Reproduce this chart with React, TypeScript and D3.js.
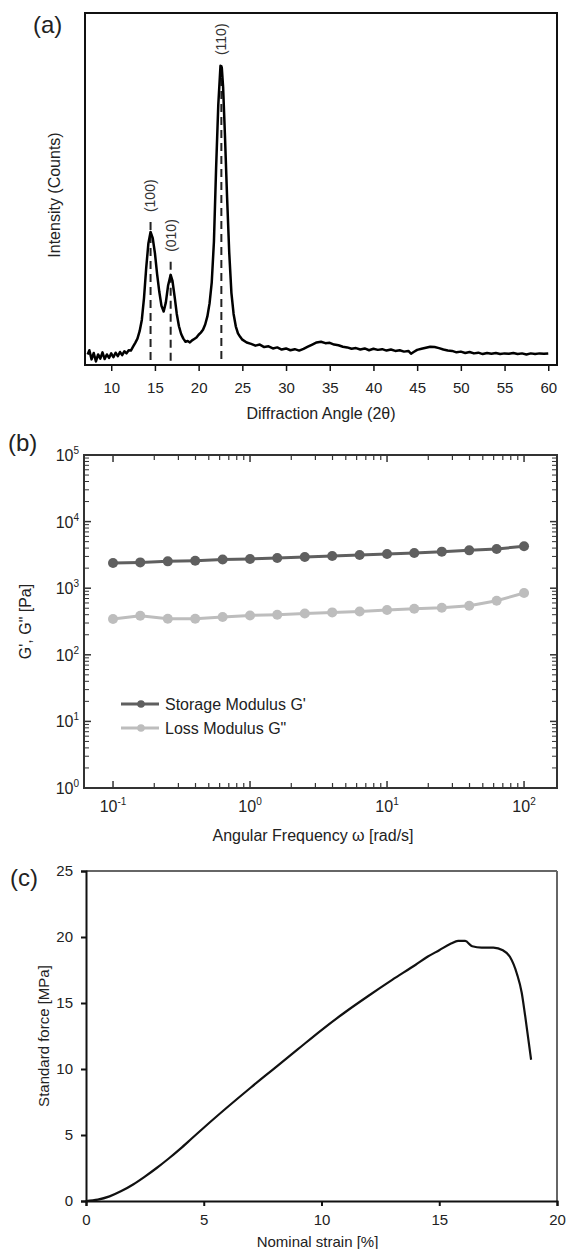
import { useRef, useEffect } from 'react';
import * as d3 from 'd3';

const W = 569;
const H = 1249;
const FONT = "'Liberation Sans', Arial, sans-serif";

// (a) XRD pattern
const xrdAngle = [
  7.3, 7.5, 7.75, 8.0, 8.25, 8.5, 8.75, 9.0, 9.25, 9.5, 9.75, 10.0, 10.25, 10.5, 10.75,
  11.0, 11.25, 11.5, 11.75, 12.0, 12.25, 12.5, 12.75, 13.0, 13.25, 13.5, 13.75, 14.0,
  14.25, 14.5, 14.75, 15.0, 15.25, 15.5, 15.75, 16.0, 16.25, 16.5, 16.8, 17.0, 17.25,
  17.5, 17.75, 18.0, 18.25, 18.5, 18.75, 19.0, 19.25, 19.5, 19.75, 20.0, 20.25, 20.5,
  20.75, 21.0, 21.25, 21.5, 21.75, 22.0, 22.25, 22.5, 22.65, 22.8, 23.0, 23.25, 23.5,
  23.75, 24.0, 24.25, 24.5, 24.75, 25.0, 25.5, 26.0, 26.5, 27.0, 27.5, 28.0, 28.5, 29.0,
  29.5, 30.0, 30.5, 31.0, 31.5, 32.0, 32.5, 33.0, 33.5, 34.0, 34.5, 35.0, 35.5, 36.0,
  36.5, 37.0, 37.5, 38.0, 38.5, 39.0, 39.5, 40.0, 40.5, 41.0, 41.5, 42.0, 42.5, 43.0,
  43.5, 44.0, 44.3, 44.6, 45.0, 45.5, 46.0, 46.5, 47.0, 47.5, 48.0, 48.5, 49.0, 49.5,
  50.0, 50.5, 51.0, 51.5, 52.0, 52.5, 53.0, 53.5, 54.0, 54.5, 55.0, 55.5, 56.0, 56.5,
  57.0, 57.5, 58.0, 58.5, 59.0, 59.5, 60.0,
];
const xrdCounts = [
  30, 42, 16, 34, 10, 30, 18, 36, 17, 30, 20, 33, 22, 35, 25,
  37, 28, 39, 33, 42, 41, 52, 63, 75, 96, 128, 190, 275,
  345, 378, 360, 318, 258, 208, 168, 152, 178, 225, 256, 240, 195,
  145, 110, 88, 75, 66, 68, 64, 70, 74, 78, 86, 92, 100,
  115, 138, 175, 235, 350, 560, 740, 850, 845, 790, 660, 480, 320,
  205, 145, 110, 90, 80, 72, 64, 60, 55, 58, 51, 53, 47, 50,
  44, 47, 42, 45, 41, 46, 52, 58, 64, 66, 62, 63, 58, 56,
  52, 50, 46, 48, 44, 47, 42, 46, 43, 45, 41, 44, 40, 42,
  38, 40, 32, 37, 43, 46, 49, 52, 51, 48, 44, 41, 40, 36,
  38, 34, 37, 33, 35, 31, 34, 32, 34, 31, 33, 32, 34, 31,
  33, 30, 33, 31, 33, 32, 33,
];
const peakAngles = [14.5, 16.8, 22.6];
const peakTops = [406, 293, 852];
const peakLabels = ['(100)', '(010)', '(110)'];
const xrdTicks = [10, 15, 20, 25, 30, 35, 40, 45, 50, 55, 60];

// (b) frequency sweep
const freq = [0.1, 0.158, 0.251, 0.398, 0.631, 1, 1.58, 2.51, 3.98, 6.31, 10, 15.8, 25.1, 39.8, 63.1, 100];
const storageG = [2390, 2440, 2530, 2590, 2690, 2750, 2840, 2940, 3050, 3160, 3270, 3380, 3540, 3700, 3880, 4260];
const lossG = [344, 385, 348, 348, 369, 390, 400, 418, 433, 448, 470, 492, 509, 546, 649, 847];
const seriesNames = ["Storage Modulus G'", 'Loss Modulus G"'];
const seriesColors = ['#5f5f5f', '#bdbdbd'];
const freqExps = [-1, 0, 1, 2];
const modExps = [0, 1, 2, 3, 4, 5];

// (c) tensile test
const strain = [0, 0.5, 1, 1.5, 2, 2.5, 3, 3.5, 4, 4.5, 5, 6, 7, 8, 9, 10, 11, 12, 13, 14, 14.5, 15, 15.5, 15.8, 16.1, 16.4, 16.8, 17.3, 17.7, 18.0, 18.3, 18.5, 18.65, 18.9];
const stress = [0, 0.1, 0.35, 0.75, 1.25, 1.85, 2.5, 3.2, 3.95, 4.75, 5.55, 7.1, 8.6, 10.05, 11.5, 12.95, 14.3, 15.55, 16.75, 17.9, 18.5, 19.0, 19.5, 19.7, 19.7, 19.3, 19.2, 19.2, 19.0, 18.5, 17.2, 15.8, 14.0, 10.7];
const strainTicks = [0, 5, 10, 15, 20];
const stressTicks = [0, 5, 10, 15, 20, 25];

export default function App() {
  const svgRef = useRef<SVGSVGElement>(null);

  useEffect(() => {
    const svg = d3.select(svgRef.current);
    svg.selectAll('*').remove();
    svg.attr('font-family', FONT);

    // ---------- (a) ----------
    const ax = d3.scaleLinear().domain([7, 61]).range([85, 557]);
    const ay = d3.scaleLinear().domain([0, 1000]).range([365, 13]);

    const gA = svg.append('g');
    const xAxisA = d3.axisBottom(ax).tickValues(xrdTicks).tickSize(6).tickPadding(11);
    gA.append('g')
      .attr('transform', `translate(0, ${ay(0)})`)
      .call(xAxisA)
      .call((g) => g.select('.domain').remove())
      .call((g) => g.selectAll('line').attr('stroke', '#111').attr('stroke-width', 1.5))
      .call((g) => g.selectAll('text').attr('font-size', 15).attr('fill', '#222').attr('font-family', FONT));

    peakAngles.forEach((a, i) => {
      gA.append('line')
        .attr('x1', ax(a)).attr('x2', ax(a))
        .attr('y1', ay(peakTops[i])).attr('y2', ay(0))
        .attr('stroke', '#222').attr('stroke-width', 2)
        .attr('stroke-dasharray', '8,5');
      gA.append('text')
        .attr('transform', `translate(${ax(a)}, ${ay(peakTops[i]) - 10}) rotate(-90)`)
        .attr('dy', '0.35em')
        .attr('font-size', 14)
        .attr('fill', '#333')
        .text(peakLabels[i]);
    });

    const lineA = d3.line<number>()
      .x((d, i) => ax(xrdAngle[i]))
      .y((d) => ay(d));
    gA.append('path')
      .attr('d', lineA(xrdCounts))
      .attr('fill', 'none')
      .attr('stroke', '#000')
      .attr('stroke-width', 2.5)
      .attr('stroke-linejoin', 'round');

    gA.append('rect')
      .attr('x', ax(7)).attr('y', ay(1000))
      .attr('width', ax(61) - ax(7)).attr('height', ay(0) - ay(1000))
      .attr('fill', 'none').attr('stroke', '#111').attr('stroke-width', 2);

    gA.append('text')
      .attr('x', (ax(7) + ax(61)) / 2).attr('y', 413).attr('dy', '0.35em')
      .attr('text-anchor', 'middle').attr('font-size', 16).attr('fill', '#222')
      .text('Diffraction Angle (2θ)');
    gA.append('text')
      .attr('transform', `translate(54, ${(ay(0) + ay(1000)) / 2 + 6}) rotate(-90)`)
      .attr('dy', '0.35em')
      .attr('text-anchor', 'middle').attr('font-size', 16).attr('fill', '#222')
      .text('Intensity (Counts)');
    gA.append('text')
      .attr('x', 33).attr('y', 33)
      .attr('font-size', 24).attr('fill', '#222')
      .text('(a)');

    // ---------- (b) ----------
    const bx = d3.scaleLog().domain([0.0614, 174]).range([84, 557]);
    const by = d3.scaleLog().domain([1, 1e5]).range([788, 455]);
    const gB = svg.append('g');

    const minorF: number[] = [];
    freqExps.slice(0, -1).forEach((e) => {
      for (let k = 2; k <= 9; k++) minorF.push(k * Math.pow(10, e));
    });
    const minorM: number[] = [];
    modExps.slice(0, -1).forEach((e) => {
      for (let k = 2; k <= 9; k++) minorM.push(k * Math.pow(10, e));
    });
    const [bx0, bx1] = bx.range();
    const [by0, by1] = by.range();
    const tickStroke = '#333';

    freqExps.forEach((e) => {
      const x = bx(Math.pow(10, e));
      gB.append('line').attr('x1', x).attr('x2', x).attr('y1', by0).attr('y2', by0 - 7).attr('stroke', tickStroke).attr('stroke-width', 1.5);
      gB.append('line').attr('x1', x).attr('x2', x).attr('y1', by1).attr('y2', by1 + 7).attr('stroke', tickStroke).attr('stroke-width', 1.5);
      const t = gB.append('text')
        .attr('x', x).attr('y', 812)
        .attr('text-anchor', 'middle').attr('font-size', 16).attr('fill', '#222');
      t.append('tspan').text('10');
      t.append('tspan').attr('dy', -7).attr('font-size', 10).text(String(e));
    });
    minorF.forEach((v) => {
      const x = bx(v);
      gB.append('line').attr('x1', x).attr('x2', x).attr('y1', by0).attr('y2', by0 - 5).attr('stroke', tickStroke).attr('stroke-width', 1.2);
      gB.append('line').attr('x1', x).attr('x2', x).attr('y1', by1).attr('y2', by1 + 5).attr('stroke', tickStroke).attr('stroke-width', 1.2);
    });
    modExps.forEach((e) => {
      const y = by(Math.pow(10, e));
      gB.append('line').attr('x1', bx0).attr('x2', bx0 + 7).attr('y1', y).attr('y2', y).attr('stroke', tickStroke).attr('stroke-width', 1.5);
      gB.append('line').attr('x1', bx1).attr('x2', bx1 - 7).attr('y1', y).attr('y2', y).attr('stroke', tickStroke).attr('stroke-width', 1.5);
      const t = gB.append('text')
        .attr('x', 79).attr('y', y + 6)
        .attr('text-anchor', 'end').attr('font-size', 16).attr('fill', '#222');
      t.append('tspan').text('10');
      t.append('tspan').attr('dy', -7).attr('font-size', 10).text(String(e));
    });
    minorM.forEach((v) => {
      const y = by(v);
      gB.append('line').attr('x1', bx0).attr('x2', bx0 + 5).attr('y1', y).attr('y2', y).attr('stroke', tickStroke).attr('stroke-width', 1);
      gB.append('line').attr('x1', bx1).attr('x2', bx1 - 5).attr('y1', y).attr('y2', y).attr('stroke', tickStroke).attr('stroke-width', 1);
    });

    const lineB = d3.line<number>()
      .x((d, i) => bx(freq[i]))
      .y((d) => by(d));
    [lossG, storageG].forEach((s, j) => {
      const color = seriesColors[1 - j];
      gB.append('path')
        .attr('d', lineB(s))
        .attr('fill', 'none').attr('stroke', color).attr('stroke-width', 3);
      gB.selectAll(null)
        .data(s)
        .enter()
        .append('circle')
        .attr('cx', (d, i) => bx(freq[i]))
        .attr('cy', (d) => by(d))
        .attr('r', 5)
        .attr('fill', color);
    });

    gB.append('rect')
      .attr('x', bx0).attr('y', by1)
      .attr('width', bx1 - bx0).attr('height', by0 - by1)
      .attr('fill', 'none').attr('stroke', '#333').attr('stroke-width', 2);

    seriesNames.forEach((name, i) => {
      const y = 704 + i * 24;
      gB.append('line').attr('x1', 121).attr('x2', 159).attr('y1', y).attr('y2', y)
        .attr('stroke', seriesColors[i]).attr('stroke-width', 3);
      gB.append('circle').attr('cx', 141).attr('cy', y).attr('r', 3.8).attr('fill', seriesColors[i]);
      gB.append('text').attr('x', 165).attr('y', y).attr('dy', '0.35em')
        .attr('font-size', 16).attr('fill', '#222').text(name);
    });

    gB.append('text')
      .attr('x', 313).attr('y', 835).attr('dy', '0.35em')
      .attr('text-anchor', 'middle').attr('font-size', 16).attr('fill', '#222')
      .text('Angular Frequency ω [rad/s]');
    gB.append('text')
      .attr('transform', `translate(25, ${(by0 + by1) / 2}) rotate(-90)`)
      .attr('dy', '0.35em')
      .attr('text-anchor', 'middle').attr('font-size', 16).attr('fill', '#222')
      .text('G\', G" [Pa]');
    gB.append('text')
      .attr('x', 8).attr('y', 451)
      .attr('font-size', 24).attr('fill', '#222')
      .text('(b)');

    // ---------- (c) ----------
    const cxs = d3.scaleLinear().domain([0, 20]).range([86, 557]);
    const cys = d3.scaleLinear().domain([0, 25]).range([1201, 871]);
    const gC = svg.append('g');

    gC.append('line')
      .attr('x1', cxs(0)).attr('x2', cxs(20)).attr('y1', cys(25)).attr('y2', cys(25))
      .attr('stroke', '#666').attr('stroke-width', 2);
    gC.append('line')
      .attr('x1', cxs(20)).attr('x2', cxs(20)).attr('y1', cys(25)).attr('y2', cys(0))
      .attr('stroke', '#666').attr('stroke-width', 2);

    gC.append('g')
      .attr('transform', `translate(0, ${cys(0)})`)
      .call(d3.axisBottom(cxs).tickValues(strainTicks).tickSize(5).tickPadding(8))
      .call((g) => g.selectAll('line, path').attr('stroke', '#111').attr('stroke-width', 2))
      .call((g) => g.selectAll('text').attr('font-size', 15).attr('fill', '#222').attr('font-family', FONT));
    gC.append('g')
      .attr('transform', `translate(${cxs(0)}, 0)`)
      .call(d3.axisLeft(cys).tickValues(stressTicks).tickSize(5).tickPadding(8))
      .call((g) => g.selectAll('line, path').attr('stroke', '#111').attr('stroke-width', 2))
      .call((g) => g.selectAll('text').attr('font-size', 15).attr('fill', '#222').attr('font-family', FONT));

    const lineC = d3.line<number>()
      .x((d, i) => cxs(strain[i]))
      .y((d) => cys(d))
      .curve(d3.curveMonotoneX);
    gC.append('path')
      .attr('d', lineC(stress))
      .attr('fill', 'none').attr('stroke', '#111').attr('stroke-width', 2.2);

    gC.append('text')
      .attr('x', (cxs(0) + cxs(20)) / 2 - 4).attr('y', 1242).attr('dy', '0.35em')
      .attr('text-anchor', 'middle').attr('font-size', 15).attr('fill', '#222')
      .text('Nominal strain [%]');
    gC.append('text')
      .attr('transform', `translate(44, ${(cys(0) + cys(25)) / 2}) rotate(-90)`)
      .attr('dy', '0.35em')
      .attr('text-anchor', 'middle').attr('font-size', 15).attr('fill', '#222')
      .text('Standard force [MPa]');
    gC.append('text')
      .attr('x', 10).attr('y', 886)
      .attr('font-size', 24).attr('fill', '#222')
      .text('(c)');
  }, []);

  return (
    <svg
      ref={svgRef}
      width={W}
      height={H}
      style={{ position: 'absolute', left: 0, top: 0, background: '#fff' }}
    ></svg>
  );
}
